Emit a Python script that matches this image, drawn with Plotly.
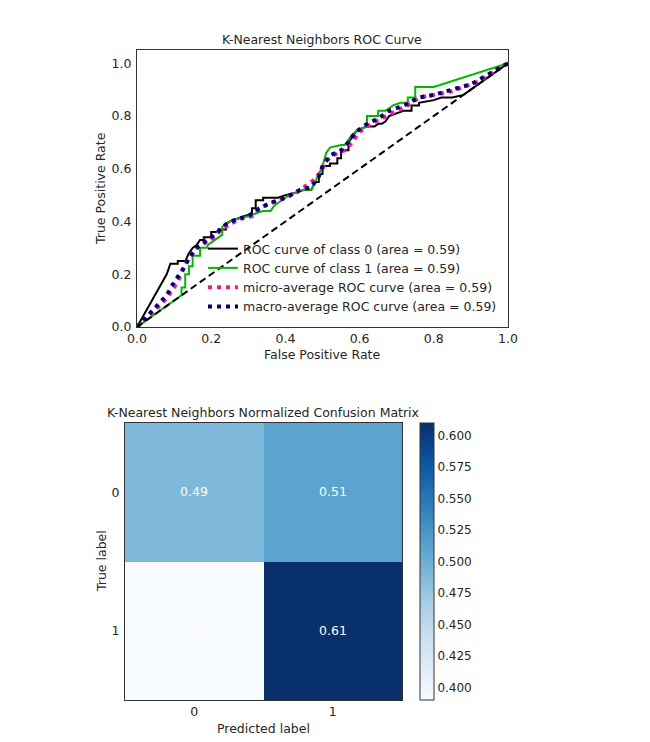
import plotly.graph_objects as go

# page body has an 8px margin, so the figure is 8px smaller than the window
OFF = 8
W, H = 650 - OFF, 742 - OFF

# ---------------- data ----------------
fpr_class0 = [0, 0.08, 0.09, 0.11, 0.11, 0.13, 0.14, 0.15, 0.16, 0.17, 0.18, 0.18, 0.20, 0.20, 0.22, 0.22,
              0.24, 0.24, 0.25, 0.27, 0.29, 0.31, 0.31, 0.32, 0.32, 0.34, 0.34, 0.38, 0.40, 0.43, 0.45,
              0.47, 0.48, 0.49, 0.49, 0.50, 0.50, 0.52, 0.52, 0.54, 0.54, 0.55, 0.55, 0.57, 0.57, 0.58,
              0.59, 0.60, 0.62, 0.64, 0.65, 0.66, 0.67, 0.68, 0.70, 0.72, 0.74, 0.74, 0.76, 0.76, 0.80,
              0.82, 0.85, 0.88, 1.0]
tpr_class0 = [0, 0.20, 0.24, 0.24, 0.25, 0.25, 0.28, 0.30, 0.31, 0.33, 0.33, 0.34, 0.34, 0.36, 0.36, 0.37,
              0.37, 0.39, 0.40, 0.41, 0.42, 0.43, 0.45, 0.45, 0.48, 0.48, 0.49, 0.49, 0.50, 0.51, 0.52,
              0.52, 0.55, 0.55, 0.58, 0.58, 0.61, 0.61, 0.62, 0.62, 0.64, 0.64, 0.67, 0.67, 0.70, 0.72,
              0.74, 0.75, 0.76, 0.76, 0.77, 0.77, 0.78, 0.80, 0.81, 0.82, 0.82, 0.84, 0.84, 0.85, 0.86,
              0.87, 0.87, 0.88, 1.0]

fpr_class1 = [0, 0.12, 0.12, 0.13, 0.13, 0.14, 0.14, 0.15, 0.15, 0.17, 0.17, 0.19, 0.19, 0.20, 0.21, 0.22,
              0.23, 0.23, 0.24, 0.25, 0.27, 0.30, 0.32, 0.34, 0.36, 0.37, 0.38, 0.39, 0.41, 0.45, 0.47,
              0.48, 0.49, 0.50, 0.51, 0.52, 0.55, 0.56, 0.57, 0.58, 0.60, 0.62, 0.62, 0.65, 0.65, 0.67,
              0.68, 0.69, 0.71, 0.73, 0.73, 0.75, 0.75, 0.80, 1.0]
tpr_class1 = [0, 0.12, 0.15, 0.15, 0.20, 0.20, 0.23, 0.23, 0.27, 0.27, 0.30, 0.30, 0.31, 0.32, 0.33, 0.34,
              0.35, 0.38, 0.39, 0.40, 0.41, 0.42, 0.43, 0.44, 0.44, 0.46, 0.47, 0.48, 0.50, 0.52, 0.52,
              0.55, 0.58, 0.61, 0.66, 0.68, 0.69, 0.69, 0.71, 0.73, 0.75, 0.76, 0.80, 0.80, 0.82, 0.82,
              0.83, 0.84, 0.85, 0.85, 0.87, 0.87, 0.91, 0.91, 1.0]

fpr_micro = [0, 0.04, 0.08, 0.10, 0.12, 0.13, 0.15, 0.17, 0.20, 0.22, 0.25, 0.28, 0.31, 0.33, 0.36, 0.40,
             0.43, 0.46, 0.48, 0.50, 0.51, 0.54, 0.56, 0.58, 0.60, 0.63, 0.66, 0.70, 0.73, 0.76, 0.80,
             0.84, 0.88, 0.92, 1.0]
tpr_micro = [0, 0.05, 0.11, 0.15, 0.20, 0.24, 0.28, 0.31, 0.33, 0.36, 0.39, 0.41, 0.42, 0.45, 0.47, 0.49,
             0.51, 0.54, 0.56, 0.60, 0.63, 0.66, 0.67, 0.70, 0.74, 0.77, 0.79, 0.82, 0.84, 0.87, 0.88,
             0.89, 0.91, 0.93, 1.0]

fpr_macro = [0, 0.04, 0.08, 0.10, 0.12, 0.14, 0.16, 0.18, 0.21, 0.24, 0.27, 0.30, 0.33, 0.36, 0.40, 0.44,
             0.47, 0.49, 0.50, 0.52, 0.55, 0.57, 0.59, 0.62, 0.65, 0.68, 0.72, 0.76, 0.80, 0.85, 0.90,
             0.95, 1.0]
tpr_macro = [0, 0.06, 0.12, 0.17, 0.21, 0.26, 0.30, 0.32, 0.35, 0.39, 0.41, 0.42, 0.45, 0.47, 0.49, 0.52,
             0.53, 0.57, 0.61, 0.65, 0.67, 0.70, 0.74, 0.77, 0.79, 0.82, 0.84, 0.87, 0.88, 0.90, 0.92,
             0.96, 1.0]

roc_names = ["ROC curve of class 0 (area = 0.59)",
             "ROC curve of class 1 (area = 0.59)",
             "micro-average ROC curve (area = 0.59)",
             "macro-average ROC curve (area = 0.59)"]

cm_labels = [0, 1]
cm_values = [[0.49, 0.51],
             [0.39, 0.61]]
cb_ticks = [0.400, 0.425, 0.450, 0.475, 0.500, 0.525, 0.550, 0.575, 0.600]

# ---------------- helpers (window pixel -> paper fraction) ----------------
def px_x(p):
    return (p - OFF) / W

def px_y(p):
    return (H - (p - OFF)) / H

FONT = "DejaVu Sans"
TXT = "#262626"
SPINE = "#333333"

mpl_blues = [[0.0, "#f7fbff"], [0.125, "#deebf7"], [0.25, "#c6dbef"], [0.375, "#9ecae1"],
             [0.5, "#6baed6"], [0.625, "#4292c6"], [0.75, "#2171b5"], [0.875, "#08519c"],
             [1.0, "#08306b"]]

fig = go.Figure()

# ROC curves
fig.add_trace(go.Scatter(x=fpr_class0, y=tpr_class0, mode="lines", name=roc_names[0],
                         line=dict(color="black", width=2), xaxis="x", yaxis="y"))
fig.add_trace(go.Scatter(x=fpr_class1, y=tpr_class1, mode="lines", name=roc_names[1],
                         line=dict(color="#00b800", width=2), xaxis="x", yaxis="y"))
fig.add_trace(go.Scatter(x=fpr_micro, y=tpr_micro, mode="lines", name=roc_names[2],
                         line=dict(color="#ff1493", width=4, dash="4px,5px"), xaxis="x", yaxis="y"))
fig.add_trace(go.Scatter(x=fpr_macro, y=tpr_macro, mode="lines", name=roc_names[3],
                         line=dict(color="#000080", width=4, dash="4px,5px"), xaxis="x", yaxis="y"))
fig.add_trace(go.Scatter(x=[0, 1], y=[0, 1], mode="lines", showlegend=False,
                         line=dict(color="black", width=2, dash="7px,4px"), xaxis="x", yaxis="y"))

# Confusion matrix
fig.add_trace(go.Heatmap(z=cm_values, x=cm_labels, y=cm_labels, xaxis="x2", yaxis="y2",
                         colorscale=mpl_blues, zmin=0.39, zmax=0.61,
                         texttemplate="%{z:.2f}", textfont=dict(color="white", size=12.5, family=FONT),
                         showscale=True,
                         colorbar=dict(x=px_x(420), xanchor="left", thickness=14,
                                       y=px_y(423), yanchor="top", len=277 / H, lenmode="fraction",
                                       outlinewidth=1, outlinecolor=SPINE, xpad=0, ypad=0,
                                       tickvals=cb_ticks, ticktext=[f"{v:.3f}" for v in cb_ticks],
                                       ticks="", tickfont=dict(family=FONT, size=12, color=TXT))))

axis_common = dict(showline=True, mirror=True, linecolor=SPINE, linewidth=1.25, showgrid=False,
                   zeroline=False, tickcolor="rgba(0,0,0,0)", automargin=False,
                   tickfont=dict(family=FONT, size=12.5, color=TXT))
xax = dict(ticks="", **axis_common)
yax = dict(ticks="outside", ticklen=2, **axis_common)

fig.update_layout(
    template="none",
    width=W, height=H, margin=dict(l=0, r=0, t=0, b=0, pad=0),
    paper_bgcolor="white", plot_bgcolor="white",
    font=dict(family=FONT, size=12, color=TXT),
    xaxis=dict(domain=[px_x(137), px_x(508)], range=[0, 1], tickvals=[0, 0.2, 0.4, 0.6, 0.8, 1.0],
               tickformat=".1f", anchor="y", **xax),
    yaxis=dict(domain=[px_y(327), px_y(50)], range=[0, 1.05], tickvals=[0, 0.2, 0.4, 0.6, 0.8, 1.0],
               tickformat=".1f", anchor="x", **yax),
    xaxis2=dict(domain=[px_x(125), px_x(402)], range=[-0.5, 1.5], tickvals=cm_labels, anchor="y2",
                **xax),
    yaxis2=dict(domain=[px_y(700), px_y(423)], range=[1.5, -0.5], tickvals=cm_labels, anchor="x2",
                **yax),
    legend=dict(x=px_x(203), y=px_y(234), xanchor="left", yanchor="top",
                bgcolor="rgba(0,0,0,0)", borderwidth=0,
                font=dict(family=FONT, size=12.5, color=TXT), tracegroupgap=0),
    annotations=[
        dict(text="K-Nearest Neighbors ROC Curve", x=px_x(322), y=px_y(39), xref="paper", yref="paper",
             showarrow=False, font=dict(size=12.5, color=TXT), xanchor="center", yanchor="middle"),
        dict(text="False Positive Rate", x=px_x(322), y=px_y(354), xref="paper", yref="paper",
             showarrow=False, font=dict(size=12.5, color=TXT), xanchor="center", yanchor="middle"),
        dict(text="True Positive Rate", x=px_x(101), y=px_y(188), xref="paper", yref="paper",
             showarrow=False, font=dict(size=12.5, color=TXT), textangle=-90,
             xanchor="center", yanchor="middle"),
        dict(text="K-Nearest Neighbors Normalized Confusion Matrix", x=px_x(263), y=px_y(412),
             xref="paper", yref="paper", showarrow=False, font=dict(size=12.5, color=TXT),
             xanchor="center", yanchor="middle"),
        dict(text="Predicted label", x=px_x(263), y=px_y(728), xref="paper", yref="paper",
             showarrow=False, font=dict(size=12.5, color=TXT), xanchor="center", yanchor="middle"),
        dict(text="True label", x=px_x(101), y=px_y(561), xref="paper", yref="paper",
             showarrow=False, font=dict(size=12.5, color=TXT), textangle=-90,
             xanchor="center", yanchor="middle"),
    ],
)

fig.write_html("out.html")
